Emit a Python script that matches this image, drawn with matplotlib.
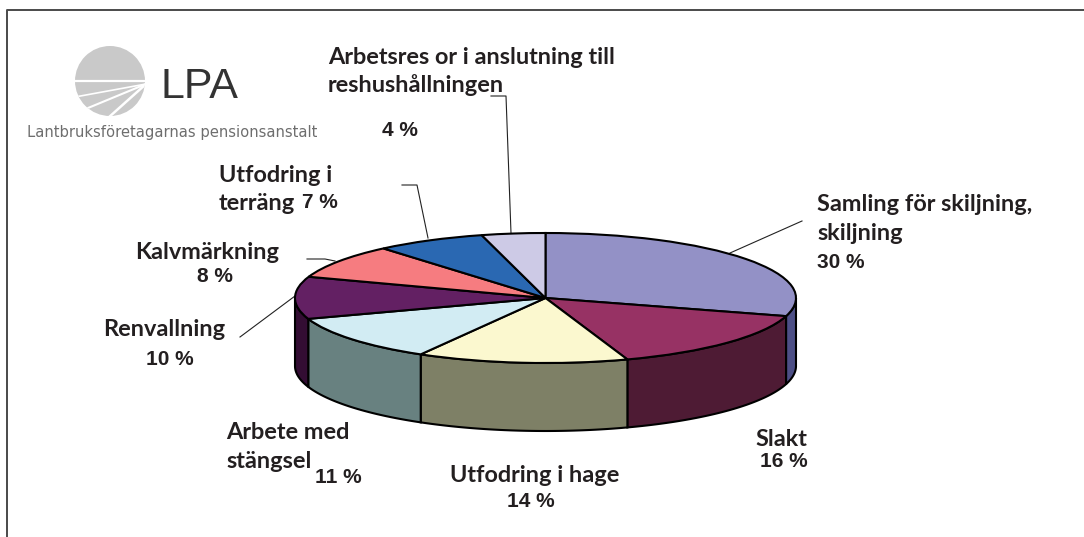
import numpy as np
import matplotlib
matplotlib.use('Agg')
import matplotlib.pyplot as plt
from matplotlib.patches import Circle
from matplotlib.transforms import Affine2D

# Slice shares as they are drawn in the picture, and the printed percentages
shares = [29.5, 15.2, 13.6, 11.5, 10.5, 8.5, 7.1, 4.1]
percents = [30, 16, 14, 11, 10, 8, 7, 4]
labels = ['Samling för skiljning,\nskiljning', 'Slakt', 'Utfodring i hage',
          'Arbete med\nstängsel', 'Renvallning', 'Kalvmärkning',
          'Utfodring i\nterräng', 'Arbetsres or i anslutning till\nreshushållningen']
top_colors = ['#9391c6', '#973264', '#fbf8cf', '#d2ecf3',
              '#632063', '#f67c80', '#2a68b2', '#cdcae6']
side_colors = ['#4d4f86', '#4e1b34', '#7e8066', '#688180',
               '#330d33', '#7e4042', '#15345a', '#66647a']

LABEL_FONT = 'Lato'
PCT_FONT = 'Liberation Sans'
TEXT_COLOR = '#231f20'

fig = plt.figure(figsize=(10.84, 5.37), dpi=100)
ax = fig.add_axes([0, 0, 1, 1])

# Pie geometry in image pixels
cx, cy = 545.5, 298
rx, ry = 250.5, 65
depth = 68

# Rim of the pie, only the part facing the viewer
edges = np.cumsum([0] + shares) / sum(shares)
for i in range(len(shares)):
    start = max(edges[i], 0.25)
    stop = min(edges[i + 1], 0.75)
    if start >= stop:
        continue
    f = np.linspace(start, stop, 80) * 2 * np.pi
    xs = cx + rx * np.sin(f)
    ys = cy - ry * np.cos(f)
    ax.fill(np.r_[xs, xs[::-1]], np.r_[ys, ys[::-1] + depth],
            facecolor=side_colors[i], edgecolor='black', linewidth=1.5, zorder=1)

# Top face: a normal pie squashed into an ellipse
wedges, _ = ax.pie(shares, colors=top_colors, startangle=90, counterclock=False,
                   wedgeprops={'edgecolor': 'black', 'linewidth': 1.5})
squash = Affine2D().scale(rx, -ry).translate(cx, cy) + ax.transData
for w in wedges:
    w.set_transform(squash)
    w.set_zorder(2)

ax.set_aspect('auto')
ax.set_xlim(0, 1084)
ax.set_ylim(537, 0)
ax.axis('off')

# Frame, top and left only
ax.plot([6.5, 6.5, 1084], [537, 10, 10], color='#4a4a4a', linewidth=1.4, zorder=1)

# Leader lines
leaders = [([730, 802], [253, 221]),
           ([295, 240], [296, 337]),
           ([307, 325, 335], [259, 259, 261]),
           ([402, 417, 428], [185, 185, 238]),
           ([491, 506, 511], [96, 96, 233])]
for lx, ly in leaders:
    ax.plot(lx, ly, color='#222222', linewidth=0.8, zorder=1)


def put_label(i, x, y, step=29.5):
    for n, line in enumerate(labels[i].split('\n')):
        ax.text(x, y + n * step, line, family=LABEL_FONT, weight='bold', fontsize=16.9,
                color=TEXT_COLOR, ha='left', va='baseline')


def put_pct(i, x, y):
    ax.text(x, y, f'{percents[i]} %', family=PCT_FONT, weight='bold', fontsize=15,
            color=TEXT_COLOR, ha='left', va='baseline')


put_label(0, 817, 211)
put_pct(0, 817, 268)
put_label(1, 755, 446)
put_pct(1, 760, 467)
put_label(2, 450, 482)
put_pct(2, 507, 507)
put_label(3, 226, 439, 28.5)
put_pct(3, 315, 483)
put_label(4, 103, 336)
put_pct(4, 146, 365)
put_label(5, 135, 259)
put_pct(5, 197, 282)
put_label(6, 219, 182, 27.5)
put_pct(6, 302, 208)
put_label(7, 328, 64, 28.5)
put_pct(7, 382, 136)

# Logo
disc = Circle((110, 81), 35, facecolor='#c9c9c9', edgecolor='none', zorder=1)
ax.add_patch(disc)
band, = ax.plot([70, 150], [81, 81], color='white', linewidth=1.6, zorder=2)
band.set_clip_path(disc)
for ex, ey, lw in [(75, 97, 1.2), (88, 108, 1.5), (108, 118, 1.8)]:
    ray, = ax.plot([146, ex], [84, ey], color='white', linewidth=lw, zorder=2)
    ray.set_clip_path(disc)
ax.text(161, 98, 'LPA', family='Liberation Sans', fontsize=31, color='#333333',
        ha='left', va='baseline')
ax.text(27, 137, 'Lantbruksföretagarnas pensionsanstalt', family='DejaVu Sans',
        fontsize=10.6, color='#6e6e6e', ha='left', va='baseline')

fig.savefig('out.png', dpi=100)
